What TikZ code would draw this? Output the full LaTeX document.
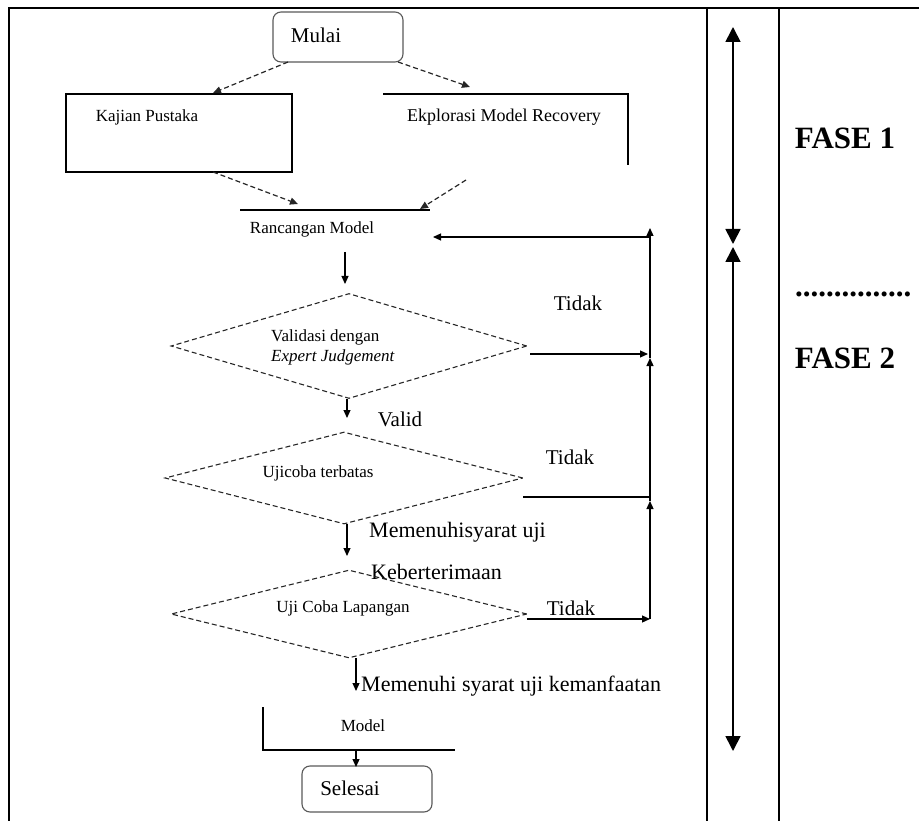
\documentclass[tikz,border=0pt]{standalone}
\usepackage{fontspec}
\setmainfont{Liberation Serif}
\usetikzlibrary{arrows.meta,shapes.geometric}
\begin{document}
\begin{tikzpicture}[x=1pt,y=-1pt,
 tbl/.style={line width=1.3pt},
 small/.style={font=\fontsize{17}{20}\selectfont, inner sep=0pt},
 big/.style={font=\fontsize{21}{24}\selectfont, inner sep=0pt},
 bigger/.style={font=\fontsize{22}{25}\selectfont, inner sep=0pt},
 fase/.style={font=\fontsize{31}{34}\selectfont\bfseries, inner sep=0pt},
 pline/.style={line width=1.2pt},
 arr/.style={pline, -{Triangle[length=8pt,width=7pt]}},
 darr/.style={arr, dash pattern=on 5pt off 3pt, draw=black!85},
 dia/.style={diamond, draw=black!85, line width=1.1pt, dash pattern=on 5pt off 3pt, inner sep=0pt},
 rbox/.style={draw=black!65, line width=1.1pt, rounded corners=8pt, inner sep=0pt},
 sbox/.style={draw, line width=1.3pt, inner sep=0pt},
 dbl/.style={line width=1.7pt, {Triangle[length=15pt,width=15pt]}-{Triangle[length=15pt,width=15pt]}}
]
\useasboundingbox (0,0) rectangle (919,821);
% table frame
\coordinate (tTL) at (9,8);
\coordinate (tTR) at (919,8);
\coordinate (tBL) at (9,821);
\coordinate (c1T) at (707,8); \coordinate (c1B) at (707,821);
\coordinate (c2T) at (779,8); \coordinate (c2B) at (779,821);
\draw[tbl] (tBL) -- (tTL) -- (tTR);
\draw[tbl] (c1T) -- (c1B);
\draw[tbl] (c2T) -- (c2B);
% phase arrows and labels
\coordinate (f1a) at (733,27); \coordinate (f1b) at (733,244);
\coordinate (f2a) at (733,247); \coordinate (f2b) at (733,751);
\draw[dbl] (f1a) -- (f1b);
\draw[dbl] (f2a) -- (f2b);
\node[fase] (fase1) at (845,138) {FASE 1};
\node[fase, anchor=base west] (dots) at (795,297) {...............};
\node[fase] (fase2) at (845,358) {FASE 2};
% top part
\node[rbox, minimum width=130pt, minimum height=50pt] (mulai) at (338,37) {};
\node[big] (mulaiT) at (316,35) {Mulai};
\node[sbox, minimum width=226pt, minimum height=78pt] (kajian) at (179,133) {};
\node[small] (kajianT) at (147,117) {Kajian Pustaka};
\coordinate (ekL) at (383,94); \coordinate (ekR) at (628,94); \coordinate (ekB) at (628,165);
\draw[pline] (ekL) -- (ekR) -- (ekB);
\node[small, font=\fontsize{18}{20}\selectfont] (ekT) at (504,117) {Ekplorasi Model Recovery};
\coordinate (m1) at (288,62); \coordinate (k1) at (213,93);
\draw[darr] (m1) -- (k1);
\coordinate (m2) at (398,62); \coordinate (e1) at (470,87);
\draw[darr] (m2) -- (e1);
\coordinate (k2) at (213,172); \coordinate (r1) at (298,204);
\draw[darr] (k2) -- (r1);
\coordinate (e2) at (466,180); \coordinate (r2) at (420,209);
\draw[darr] (e2) -- (r2);
% rancangan
\coordinate (rcL) at (240,210); \coordinate (rcR) at (430,210);
\draw[pline] (rcL) -- (rcR);
\node[small] (rcT) at (312,229) {Rancangan Model};
\coordinate (a1s) at (345,252); \coordinate (a1e) at (345,284);
\draw[arr] (a1s) -- (a1e);
% diamond 1
\node[dia, minimum width=356pt, minimum height=105pt] (d1) at (349,346) {};
\node[small, align=left, anchor=west] (d1T) at (271,347) {Validasi dengan\\\textit{Expert Judgement}};
\node[big] (tidak1) at (578,303) {Tidak};
\coordinate (d1o) at (530,354); \coordinate (lp1) at (648,354);
\draw[arr] (d1o) -- (lp1);
\coordinate (a2s) at (347,399); \coordinate (a2e) at (347,418);
\draw[arr] (a2s) -- (a2e);
\node[big] (valid) at (400,419) {Valid};
% diamond 2
\node[dia, minimum width=358pt, minimum height=92pt] (d2) at (344,478) {};
\node[small] (d2T) at (318,473) {Ujicoba terbatas};
\node[big] (tidak2) at (570,457) {Tidak};
\coordinate (d2o) at (523,497); \coordinate (lp2) at (650,497);
\draw[pline] (d2o) -- (lp2);
\coordinate (a3s) at (347,524); \coordinate (a3e) at (347,556);
\draw[arr] (a3s) -- (a3e);
\node[bigger, anchor=west] (mem1) at (369,532) {Memenuhisyarat uji};
\node[bigger, anchor=west] (keb) at (371,572) {Keberterimaan};
% diamond 3
\node[dia, minimum width=356pt, minimum height=88pt] (d3) at (349,614) {};
\node[small] (d3T) at (343,608) {Uji Coba Lapangan};
\node[big] (tidak3) at (571,608) {Tidak};
\coordinate (d3o) at (527,619); \coordinate (lp3) at (650,619);
\draw[arr] (d3o) -- (lp3);
% loop back
\coordinate (lpT) at (650,228);
\coordinate (lpm1) at (650,358);
\coordinate (lpm2) at (650,501);
\draw[arr] (lp3) -- (lpm2);
\draw[arr] (lpm2) -- (lpm1);
\draw[arr] (lpm1) -- (lpT);
\coordinate (lpH) at (650,237); \coordinate (rcA) at (433,237);
\draw[arr] (lpH) -- (rcA);
% bottom
\coordinate (a4s) at (356,658); \coordinate (a4e) at (356,691);
\draw[arr] (a4s) -- (a4e);
\node[bigger, anchor=west] (mem2) at (361,686) {Memenuhi syarat uji kemanfaatan};
\coordinate (mbT) at (263,707); \coordinate (mbC) at (263,750); \coordinate (mbR) at (455,750);
\draw[pline] (mbT) -- (mbC) -- (mbR);
\node[small] (modelT) at (363,726) {Model};
\node[rbox, minimum width=130pt, minimum height=46pt] (selesai) at (367,789) {};
\node[big] (selT) at (350,788) {Selesai};
\coordinate (a5s) at (356,750); \coordinate (a5e) at (356,767);
\draw[arr] (a5s) -- (a5e);
\end{tikzpicture}
\end{document}
